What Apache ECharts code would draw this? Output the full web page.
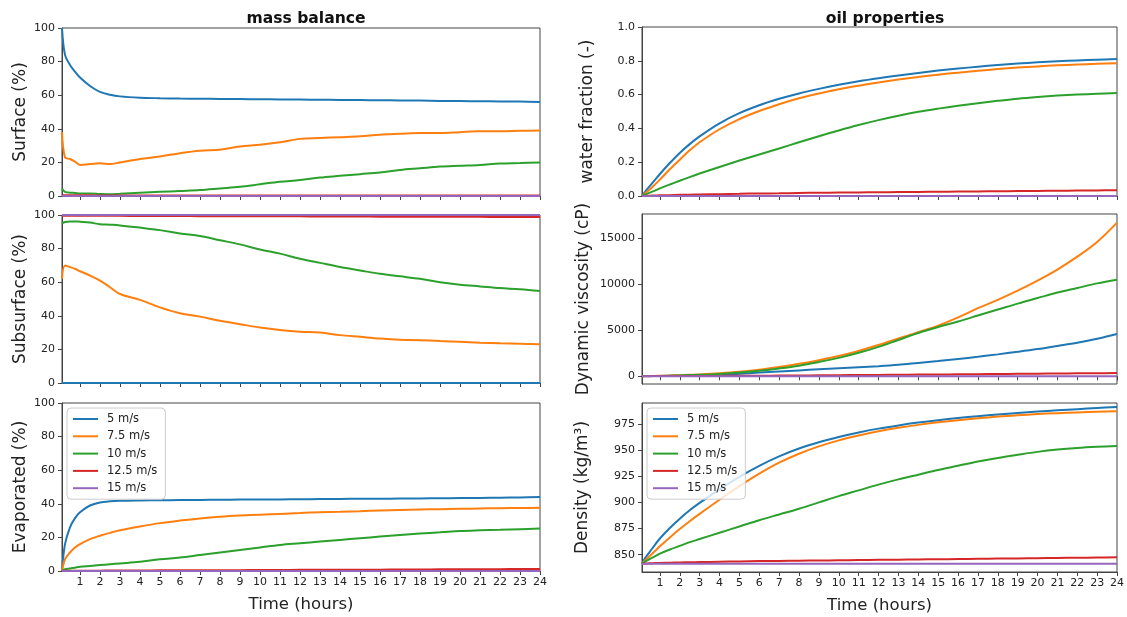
<!DOCTYPE html>
<html>
<head>
<meta charset="utf-8">
<script src="https://cdn.jsdelivr.net/npm/echarts@6/dist/echarts.min.js"></script>
<style>
html,body{margin:0;padding:0;background:#fff;}
#c{width:1127px;height:617px;}
</style>
</head>
<body>
<div id="c"></div>
<script>
// ---------- DATA ----------
const hours = [0.1, 0.25, 0.5, 0.75, 1, 1.5, 2, 2.5, 3, 4, 5, 6, 7, 8, 9, 10, 11, 12, 13, 14, 15, 16, 17, 18, 19, 20, 21, 22, 23, 24];
const speeds = ['5 m/s', '7.5 m/s', '10 m/s', '12.5 m/s', '15 m/s'];
const timeTicks = [1,2,3,4,5,6,7,8,9,10,11,12,13,14,15,16,17,18,19,20,21,22,23,24];
const viscTicks = [0, 5000, 10000, 15000];
const densTicks = [850, 875, 900, 925, 950, 975];

// Surface (%)
const surface5   = [100, 84, 78, 74, 70.5, 65.5, 62, 60.3, 59.3, 58.5, 58.2, 58, 57.9, 57.8, 57.7, 57.6, 57.5, 57.4, 57.3, 57.2, 57.1, 57, 56.9, 56.8, 56.6, 56.5, 56.4, 56.3, 56.2, 56];
const surface75  = [38, 23, 22, 20.5, 18.5, 19, 19.5, 19, 20, 22, 23.5, 25.5, 27, 27.5, 29.5, 30.5, 32, 34, 34.5, 35, 35.5, 36.5, 37, 37.5, 37.5, 38, 38.5, 38.5, 38.8, 39];
const surface10  = [4.5, 2.5, 2, 1.8, 1.5, 1.5, 1.2, 1, 1.3, 2, 2.5, 3, 3.5, 4.5, 5.5, 7, 8.5, 9.5, 11, 12, 13, 14, 15.5, 16.5, 17.5, 18, 18.5, 19.3, 19.6, 20];
const surface125 = [0.5, 0.5, 0.4, 0.4, 0.4, 0.4, 0.3, 0.3, 0.3, 0.3, 0.3, 0.3, 0.3, 0.3, 0.3, 0.3, 0.3, 0.3, 0.3, 0.3, 0.3, 0.3, 0.3, 0.3, 0.3, 0.3, 0.3, 0.3, 0.3, 0.3];
const surface15  = [0, 0, 0, 0, 0, 0, 0, 0, 0, 0, 0, 0, 0, 0, 0, 0, 0, 0, 0, 0, 0, 0, 0, 0, 0, 0, 0, 0, 0, 0];

// Subsurface (%)
const subsurface5   = [0, 0, 0, 0, 0, 0, 0, 0, 0, 0, 0, 0, 0, 0, 0, 0, 0, 0, 0, 0, 0, 0, 0, 0, 0, 0, 0, 0, 0, 0];
const subsurface75  = [62, 70, 69, 68, 66.5, 64, 61, 57, 53, 49.5, 45, 41.5, 39.5, 37, 35, 33, 31.5, 30.5, 30, 28.5, 27.5, 26.5, 25.8, 25.5, 25, 24.5, 24, 23.6, 23.3, 23];
const subsurface10  = [95, 95.8, 96.2, 96.2, 96, 95.5, 94.5, 94.2, 93.8, 92.5, 91, 89, 87.5, 85, 82.5, 79.5, 77, 74, 71.5, 69, 67, 65, 63.5, 62, 60, 58.5, 57.5, 56.5, 55.8, 54.7];
const subsurface125 = [99.5, 99.5, 99.5, 99.5, 99.5, 99.5, 99.5, 99.5, 99.5, 99.4, 99.4, 99.4, 99.3, 99.3, 99.3, 99.2, 99.2, 99.2, 99.1, 99.1, 99.1, 99, 99, 99, 98.9, 98.9, 98.9, 98.8, 98.8, 98.8];
const subsurface15  = [100, 100, 100, 100, 100, 100, 100, 100, 100, 100, 100, 100, 100, 100, 100, 100, 100, 100, 100, 100, 100, 100, 100, 100, 100, 100, 100, 100, 100, 100];

// Evaporated (%)
const evap5   = [0, 16, 26, 31.5, 35, 39, 40.8, 41.5, 41.8, 42, 42.1, 42.2, 42.3, 42.4, 42.5, 42.5, 42.6, 42.7, 42.8, 42.9, 43, 43, 43.1, 43.2, 43.3, 43.4, 43.5, 43.6, 43.8, 44];
const evap75  = [0, 7, 11, 14, 16, 19, 21, 22.7, 24.2, 26.5, 28.5, 30, 31.3, 32.3, 33, 33.5, 34, 34.5, 35, 35.3, 35.6, 36, 36.3, 36.6, 36.8, 37, 37.2, 37.4, 37.5, 37.7];
const evap10  = [0, 1, 1.5, 2, 2.5, 3, 3.5, 4, 4.5, 5.5, 7, 8, 9.5, 11, 12.5, 14, 15.5, 16.5, 17.5, 18.5, 19.5, 20.5, 21.5, 22.3, 23, 23.8, 24.2, 24.5, 24.9, 25.3];
const evap125 = [0, 0.1, 0.1, 0.1, 0.2, 0.2, 0.2, 0.3, 0.3, 0.3, 0.4, 0.4, 0.5, 0.5, 0.5, 0.6, 0.6, 0.7, 0.7, 0.8, 0.8, 0.8, 0.9, 0.9, 1, 1, 1.1, 1.1, 1.2, 1.2];
const evap15  = [0, 0, 0, 0, 0, 0, 0, 0, 0, 0, 0, 0, 0, 0, 0, 0, 0, 0, 0, 0, 0, 0, 0, 0, 0, 0, 0, 0, 0, 0];

// Water fraction (-)
const water5   = [0, 0.025, 0.06, 0.095, 0.13, 0.195, 0.255, 0.307, 0.353, 0.43, 0.49, 0.537, 0.575, 0.607, 0.634, 0.658, 0.679, 0.697, 0.713, 0.728, 0.742, 0.754, 0.765, 0.775, 0.784, 0.791, 0.797, 0.802, 0.806, 0.81];
const water75  = [0, 0.015, 0.04, 0.068, 0.097, 0.158, 0.215, 0.27, 0.318, 0.395, 0.455, 0.503, 0.543, 0.578, 0.607, 0.632, 0.653, 0.672, 0.689, 0.704, 0.718, 0.73, 0.741, 0.751, 0.76, 0.767, 0.773, 0.778, 0.782, 0.786];
const water10  = [0, 0.008, 0.02, 0.032, 0.045, 0.068, 0.09, 0.112, 0.133, 0.172, 0.21, 0.246, 0.281, 0.318, 0.354, 0.388, 0.42, 0.449, 0.475, 0.498, 0.517, 0.534, 0.549, 0.563, 0.576, 0.586, 0.594, 0.6, 0.605, 0.61];
const water125 = [0, 0.001, 0.002, 0.003, 0.004, 0.005, 0.007, 0.008, 0.009, 0.011, 0.013, 0.015, 0.016, 0.018, 0.019, 0.02, 0.021, 0.022, 0.023, 0.024, 0.025, 0.026, 0.027, 0.028, 0.029, 0.03, 0.031, 0.032, 0.033, 0.034];
const water15  = [0, 0, 0, 0, 0, 0, 0, 0, 0, 0, 0, 0, 0, 0, 0, 0, 0, 0, 0, 0, 0, 0, 0, 0, 0, 0, 0, 0, 0, 0];

// Dynamic viscosity (cP)
const visc5   = [15, 18, 22, 26, 30, 45, 60, 80, 100, 160, 280, 400, 520, 640, 760, 870, 980, 1100, 1250, 1450, 1650, 1880, 2120, 2380, 2660, 2960, 3300, 3650, 4080, 4600];
const visc75  = [15, 20, 30, 40, 50, 80, 120, 160, 200, 320, 480, 700, 1000, 1350, 1750, 2200, 2750, 3400, 4100, 4800, 5500, 6400, 7400, 8300, 9300, 10400, 11600, 13000, 14600, 16700];
const visc10  = [15, 20, 28, 35, 40, 65, 90, 125, 160, 260, 400, 600, 850, 1150, 1550, 2000, 2550, 3200, 3950, 4700, 5350, 5950, 6600, 7250, 7900, 8500, 9100, 9600, 10100, 10500];
const visc125 = [15, 15, 16, 17, 18, 20, 25, 28, 32, 40, 50, 60, 75, 90, 105, 120, 135, 150, 165, 180, 195, 210, 225, 245, 265, 285, 300, 320, 335, 350];
const visc15  = [15, 15, 15, 15, 15, 15, 15, 15, 15, 15, 15, 15, 15, 15, 15, 15, 15, 15, 15, 15, 15, 15, 15, 15, 15, 15, 15, 15, 15, 15];

// Density (kg/m3)
const dens5   = [841.5, 846.5, 853, 859.5, 865.5, 875.5, 884.5, 892.5, 899.5, 912.5, 924.5, 935, 944, 951.5, 957.5, 962.5, 966.8, 970.5, 973.6, 976.3, 978.6, 980.6, 982.4, 984, 985.5, 986.8, 988, 989.1, 990.2, 991.2];
const dens75  = [841.5, 844.5, 849, 853.5, 858, 866.5, 874.5, 882, 889, 902.5, 915.5, 927.5, 938, 946.5, 953.5, 959.3, 964, 968, 971.3, 974.1, 976.5, 978.6, 980.4, 982, 983.3, 984.4, 985.3, 986, 986.6, 987.1];
const dens10  = [841.5, 843.5, 846, 848.5, 851, 855, 858.5, 862, 865, 871, 877, 883, 888.5, 894, 900, 906, 911.5, 917, 922, 926.5, 931, 935, 939, 942.5, 945.5, 948.3, 950.5, 952.1, 953.2, 954];
const dens125 = [841.5, 841.6, 841.8, 842, 842.2, 842.4, 842.6, 842.8, 843, 843.3, 843.6, 843.9, 844.1, 844.3, 844.5, 844.7, 844.9, 845.1, 845.3, 845.5, 845.7, 845.9, 846.1, 846.3, 846.5, 846.7, 846.9, 847.1, 847.3, 847.5];
const dens15  = [841.5, 841.5, 841.5, 841.5, 841.5, 841.5, 841.5, 841.5, 841.5, 841.5, 841.5, 841.5, 841.5, 841.5, 841.5, 841.5, 841.5, 841.5, 841.5, 841.5, 841.5, 841.5, 841.5, 841.5, 841.5, 841.5, 841.5, 841.5, 841.5, 841.5];

// ---------- CHART ----------
const colors = ['#1f77b4', '#ff7f0e', '#2ca02c', '#d62728', '#9467bd'];
const FONT = 'DejaVu Sans';
const TXT = '#222';
const AX = '#444';

const panels = [
  {name: 'Surface (%)',               sets: [surface5, surface75, surface10, surface125, surface15], grid: {left: 62, top: 28, width: 478, height: 168}, y: {min: 0, max: 100, interval: 20}, gap: 33, bottom: false},
  {name: 'Subsurface (%)',            sets: [subsurface5, subsurface75, subsurface10, subsurface125, subsurface15], grid: {left: 62, top: 215, width: 478, height: 168}, y: {min: 0, max: 100, interval: 20}, gap: 33, bottom: false},
  {name: 'Evaporated (%)',            sets: [evap5, evap75, evap10, evap125, evap15], grid: {left: 62, top: 403, width: 478, height: 168}, y: {min: 0, max: 100, interval: 20}, gap: 33, bottom: true},
  {name: 'water fraction (-)',        sets: [water5, water75, water10, water125, water15], grid: {left: 642, top: 27, width: 475, height: 169}, y: {min: 0, max: 1, interval: 0.2, fmt: v => v.toFixed(1)}, gap: 46, bottom: false},
  {name: 'Dynamic viscosity (cP)',    sets: [visc5, visc75, visc10, visc125, visc15], grid: {left: 642, top: 214, width: 475, height: 170}, y: {min: -840, max: 17640, custom: viscTicks, fmt: v => String(v)}, gap: 50, bottom: false},
  {name: 'Density (kg/m³)',           sets: [dens5, dens75, dens10, dens125, dens15], grid: {left: 642, top: 403, width: 475, height: 169}, y: {min: 833.5, max: 995, custom: densTicks, fmt: v => String(v)}, gap: 51, bottom: true}
];

const grid = [], xAxis = [], yAxis = [], series = [];
panels.forEach((p, i) => {
  grid.push(Object.assign({show: true, borderColor: AX, borderWidth: 1, backgroundColor: 'transparent'}, p.grid));
  xAxis.push({
    type: 'value', gridIndex: i, min: 0.1, max: 24,
    axisLine: {show: true, lineStyle: {color: AX}},
    axisTick: {show: true, length: 4, lineStyle: {color: AX}, customValues: timeTicks},
    axisLabel: {show: p.bottom, customValues: timeTicks, color: TXT, fontFamily: FONT, fontSize: 11, margin: 6},
    splitLine: {show: false},
    name: p.bottom ? 'Time (hours)' : '', nameLocation: 'middle', nameGap: 25,
    nameTextStyle: {color: TXT, fontFamily: FONT, fontSize: 16.5}
  });
  const ya = {
    type: 'value', gridIndex: i, min: p.y.min, max: p.y.max,
    axisLine: {show: true, lineStyle: {color: AX}},
    axisTick: {show: true, length: 4, lineStyle: {color: AX}},
    axisLabel: {color: TXT, fontFamily: FONT, fontSize: 11, margin: 7},
    splitLine: {show: false},
    name: p.name, nameLocation: 'middle', nameRotate: 90, nameGap: p.gap,
    nameTextStyle: {color: TXT, fontFamily: FONT, fontSize: 17}
  };
  if (p.y.interval) ya.interval = p.y.interval;
  if (p.y.fmt) ya.axisLabel.formatter = p.y.fmt;
  if (p.y.custom) { ya.axisTick.customValues = p.y.custom; ya.axisLabel.customValues = p.y.custom; }
  yAxis.push(ya);
  p.sets.forEach((vals, j) => {
    series.push({
      type: 'line', name: speeds[j], xAxisIndex: i, yAxisIndex: i,
      data: hours.map((h, k) => [h, vals[k]]),
      symbol: 'none', showSymbol: false, smooth: 0.35,
      lineStyle: {width: 2, color: colors[j]}, itemStyle: {color: colors[j]},
      clip: true, animation: false
    });
  });
});

const legendBase = {
  orient: 'vertical', data: speeds, itemWidth: 25, itemHeight: 12, itemGap: 5.3,
  icon: 'path://M0,0 L25,0 L25,2 L0,2 Z',
  padding: [5, 8, 5, 6], backgroundColor: 'rgba(255,255,255,0.8)', borderColor: '#ccc', borderWidth: 1, borderRadius: 4,
  textStyle: {color: TXT, fontFamily: FONT, fontSize: 11.5, padding: [0, 0, 0, 4]}, selectedMode: false
};

const option = {
  animation: false,
  backgroundColor: '#fff',
  color: colors,
  title: [
    {text: 'mass balance', left: 301, top: 6, textAlign: 'center', textStyle: {fontFamily: FONT, fontSize: 15.6, fontWeight: 'bold', color: '#111'}},
    {text: 'oil properties', left: 880, top: 6, textAlign: 'center', textStyle: {fontFamily: FONT, fontSize: 15.6, fontWeight: 'bold', color: '#111'}}
  ],
  legend: [
    Object.assign({left: 67, top: 408}, legendBase),
    Object.assign({left: 647, top: 408}, legendBase)
  ],
  grid, xAxis, yAxis, series
};

const chart = echarts.init(document.getElementById('c'), null, {renderer: 'canvas'});
chart.setOption(option);
</script>
</body>
</html>
